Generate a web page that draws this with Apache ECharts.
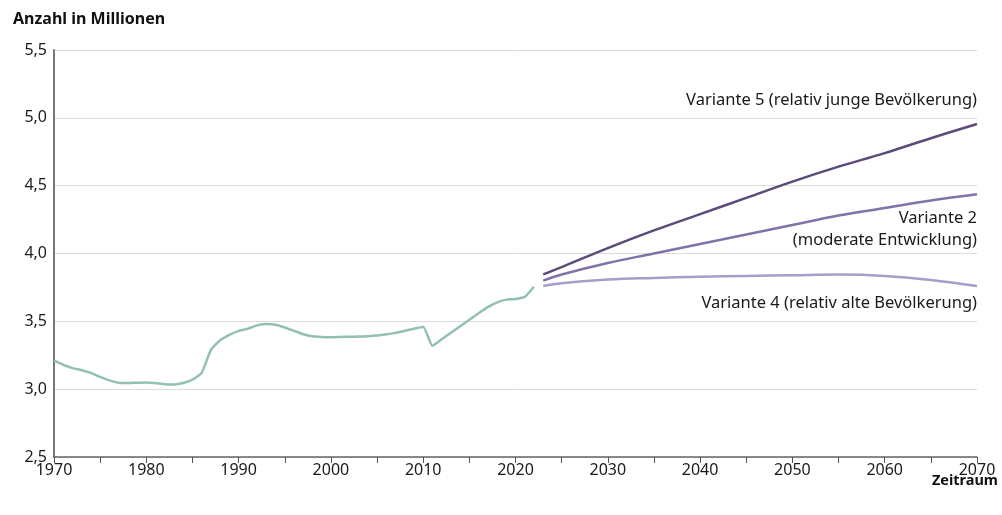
<!DOCTYPE html>
<html>
<head>
<meta charset="utf-8">
<script src="https://cdn.jsdelivr.net/npm/echarts@6/dist/echarts.min.js"></script>
<style>
  html, body { margin: 0; padding: 0; background: #fff; }
  #chart { width: 1002px; height: 515px; }
</style>
</head>
<body>
<div id="chart"></div>
<script>
// Bestand (Millionen), 1970-2022
const histYears = [
  1970, 1971, 1972, 1973, 1974, 1975, 1976, 1977, 1978, 1979,
  1980, 1981, 1982, 1983, 1984, 1985, 1986, 1987, 1988, 1989,
  1990, 1991, 1992, 1993, 1994, 1995, 1996, 1997, 1998, 1999,
  2000, 2001, 2002, 2003, 2004, 2005, 2006, 2007, 2008, 2009,
  2010, 2011, 2012, 2013, 2014, 2015, 2016, 2017, 2018, 2019,
  2020, 2021, 2022
];
const histValues = [
  3.21, 3.18, 3.155, 3.14, 3.12, 3.09, 3.065, 3.048, 3.045, 3.048,
  3.05, 3.045, 3.037, 3.035, 3.045, 3.07, 3.12, 3.29, 3.36, 3.40,
  3.43, 3.445, 3.47, 3.48, 3.475, 3.455, 3.43, 3.405, 3.39, 3.385,
  3.383, 3.385, 3.386, 3.388, 3.39, 3.395, 3.405, 3.415, 3.43, 3.445,
  3.46, 3.32, 3.368, 3.416, 3.464, 3.512, 3.56, 3.605, 3.64, 3.66,
  3.665, 3.68, 3.755
];

// Vorausberechnung
const projYears = [2023, 2025, 2030, 2035, 2040, 2045, 2050, 2055, 2060, 2065, 2070];
const variante5 = [3.846, 3.90, 4.04, 4.17, 4.29, 4.41, 4.53, 4.64, 4.74, 4.85, 4.955];
const variante2 = [3.80, 3.845, 3.93, 4.00, 4.07, 4.14, 4.21, 4.28, 4.335, 4.39, 4.436];
const variante4 = [3.76, 3.78, 3.808, 3.82, 3.828, 3.835, 3.84, 3.845, 3.835, 3.805, 3.76];

const labelV5 = "Variante 5 (relativ junge Bevölkerung)";
const labelV2 = "Variante 2\n(moderate Entwicklung)";
const labelV4 = "Variante 4 (relativ alte Bevölkerung)";

const pairs = (xs, ys) => xs.map((x, i) => [x, ys[i]]);
const fmt = (v) => v.toFixed(1).replace(".", ",");
const font = "'Noto Sans', sans-serif";

const chart = echarts.init(document.getElementById("chart"));

const endNote = (text, y) => ({
  symbol: "circle",
  symbolSize: 0,
  silent: true,
  data: [{ coord: [2070, y] }],
  label: {
    show: true,
    formatter: text,
    position: "left",
    distance: 0,
    align: "right",
    color: "#1a1a1a",
    fontSize: 16.5,
    lineHeight: 22,
    fontFamily: font,
  },
});

const option = {
  animation: false,
  textStyle: { fontFamily: font },
  title: [
    {
      text: "Anzahl in Millionen",
      left: 13,
      top: 11,
      padding: 0,
      textStyle: { fontSize: 16, fontWeight: "bold", color: "#111", fontFamily: font },
    },
    {
      text: "Zeitraum",
      right: 4,
      top: 473,
      padding: 0,
      textStyle: { fontSize: 14.5, fontWeight: "bold", color: "#111", fontFamily: font },
    },
  ],
  grid: { left: 54, right: 25, top: 50, bottom: 58 },
  xAxis: {
    type: "value",
    min: 1970,
    max: 2070,
    interval: 5,
    axisLine: { show: true, lineStyle: { color: "#666", width: 1.5 } },
    axisTick: { show: true, length: 6, lineStyle: { color: "#555" } },
    axisLabel: {
      color: "#1a1a1a",
      fontSize: 16,
      margin: 5,
      formatter: (v) => (v % 10 === 0 ? String(v) : ""),
    },
    splitLine: { show: false },
  },
  yAxis: {
    type: "value",
    min: 2.5,
    max: 5.5,
    interval: 0.5,
    axisLine: { show: true, lineStyle: { color: "#777", width: 2 } },
    axisTick: { show: false },
    axisLabel: { color: "#1a1a1a", fontSize: 16, margin: 7, formatter: fmt },
    splitLine: { lineStyle: { color: "#dcdcdc", width: 1 } },
  },
  series: [
    {
      name: "Bestand",
      type: "line",
      data: pairs(histYears, histValues),
      smooth: 0.15,
      showSymbol: false,
      lineStyle: { color: "#93c0b4", width: 2.5 },
      itemStyle: { color: "#93c0b4" },
    },
    {
      name: "Variante 4",
      type: "line",
      data: pairs(projYears, variante4),
      smooth: 0.4,
      showSymbol: false,
      lineStyle: { color: "#a89cca", width: 2.5 },
      markPoint: endNote(labelV4, 3.63),
    },
    {
      name: "Variante 2",
      type: "line",
      data: pairs(projYears, variante2),
      smooth: 0.4,
      showSymbol: false,
      lineStyle: { color: "#8272aa", width: 2.5 },
      markPoint: endNote(labelV2, 4.18),
    },
    {
      name: "Variante 5",
      type: "line",
      data: pairs(projYears, variante5),
      smooth: 0.4,
      showSymbol: false,
      lineStyle: { color: "#5c4a7c", width: 2.5 },
      markPoint: endNote(labelV5, 5.13),
    },
  ],
};

chart.setOption(option);
</script>
</body>
</html>
